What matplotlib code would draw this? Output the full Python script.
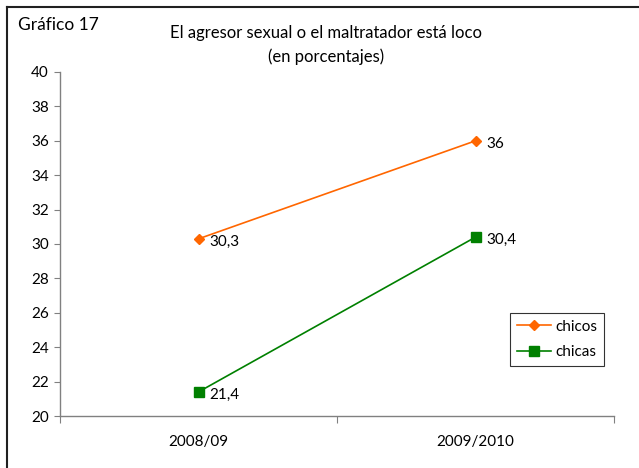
import matplotlib
matplotlib.use("Agg")
import matplotlib.pyplot as plt
from matplotlib.lines import Line2D

categories = ["2008/09", "2009/2010"]
chicos = [30.3, 36]
chicas = [21.4, 30.4]
chicos_labels = ["30,3", "36"]
chicas_labels = ["21,4", "30,4"]
yticks = [20, 22, 24, 26, 28, 30, 32, 34, 36, 38, 40]

plt.rcParams['font.family'] = ['Lato', 'DejaVu Sans']

fig = plt.figure(figsize=(6.39, 4.68), dpi=100)
ax = fig.add_axes([60/639, 1-416/468, (614-60)/639, (416-72)/468])

x = [0.5, 1.5]
orange = "#FF6600"
green = "#008000"
ax.plot(x, chicos, color=orange, lw=1.2, marker="D", ms=5, mfc=orange, mec=orange, label="chicos")
ax.plot(x, chicas, color=green, lw=1.2, marker="s", ms=7, mfc=green, mec=green, label="chicas")

for xi, v, t in zip(x, chicos, chicos_labels):
    ax.annotate(t, (xi, v), xytext=(8, -2), textcoords="offset points", ha="left", va="center", fontsize=11)
for xi, v, t in zip(x, chicas, chicas_labels):
    ax.annotate(t, (xi, v), xytext=(8, -2), textcoords="offset points", ha="left", va="center", fontsize=11)

ax.set_xlim(0, 2)
ax.set_ylim(20, 40)
ax.set_yticks(yticks)
ax.set_yticklabels([str(t) for t in yticks], fontsize=11)
ax.set_xticks([0, 1, 2])
ax.set_xticklabels([])
ax.set_xticks(x, minor=True)
ax.set_xticklabels(categories, minor=True, fontsize=11)
ax.tick_params(axis="x", which="minor", length=0, pad=14)
ax.tick_params(axis="x", which="major", length=5, color="#808080")
ax.tick_params(axis="y", length=4, color="#808080", pad=4)
for s in ["top", "right"]:
    ax.spines[s].set_visible(False)
for s in ["left", "bottom"]:
    ax.spines[s].set_color("#808080")
    ax.spines[s].set_linewidth(1)

leg = ax.legend(loc="lower right", bbox_to_anchor=((604-60)/554, (416-366)/344), frameon=True, fancybox=False,
                edgecolor="black", fontsize=11, handlelength=2.2, handletextpad=0.3, borderpad=0.45,
                labelspacing=0.75, borderaxespad=0)
leg.get_frame().set_linewidth(0.8)

fig.text(18/639, 1-25/468, "Gráfico 17", fontsize=12.5, ha="left", va="center")
fig.text(326/639, 1-33/468, "El agresor sexual o el maltratador está loco", fontsize=12, ha="center", va="center")
fig.text(326/639, 1-57/468, "(en porcentajes)", fontsize=12, ha="center", va="center")

fig.add_artist(Line2D([7/639, 1], [1-7/468, 1-7/468], color="#202020", lw=1.5, transform=fig.transFigure))
fig.add_artist(Line2D([7/639, 7/639], [0, 1-7/468], color="#202020", lw=1.5, transform=fig.transFigure))

fig.savefig("out.png", dpi=100)
